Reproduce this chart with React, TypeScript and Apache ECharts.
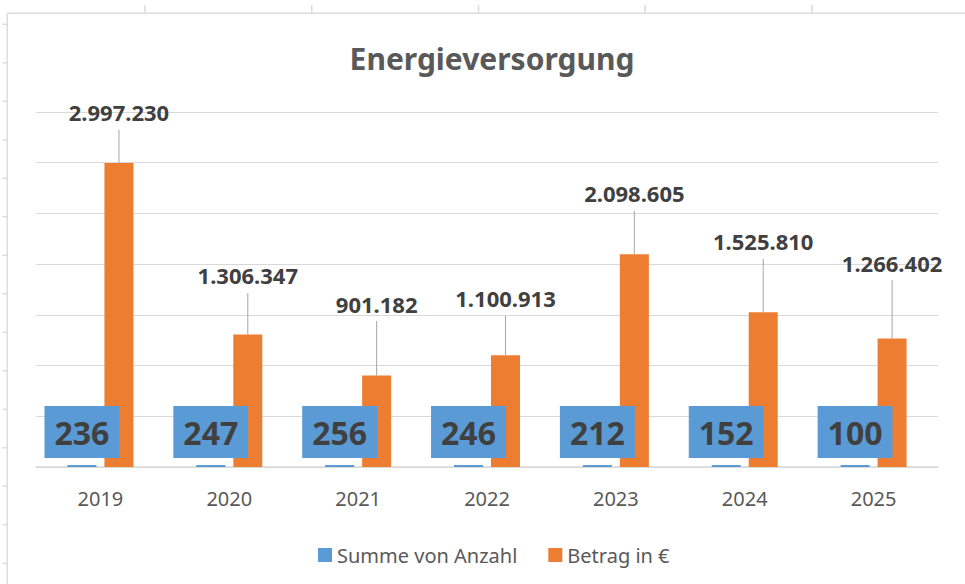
import React, { useEffect, useRef } from 'react';
import * as echarts from 'echarts';

const years = ['2019', '2020', '2021', '2022', '2023', '2024', '2025'];
const anzahl = [236, 247, 256, 246, 212, 152, 100];
const betrag = [2997230, 1306347, 901182, 1100913, 2098605, 1525810, 1266402];
const yMin = 0;
const yMax = 3500000;
const yInterval = 500000;
// vertical offset (px) of each amount label above its bar top (layout only)
const betragLabelDy = [-51, -59, -72, -57, -61, -71, -76];

const fmt = (v: number) => String(Math.round(v)).replace(/\B(?=(\d{3})+(?!\d))/g, '.');

const FONT = '"Noto Sans", "Open Sans", sans-serif';
const GRID_COLOR = '#d9d9d9';
const BAR_W = 29;
const BAR_GAP_PX = 8;

export default function App() {
  const ref = useRef<HTMLDivElement>(null);

  useEffect(() => {
    if (!ref.current) return;
    const chart = echarts.init(ref.current, undefined, { renderer: 'svg' });

    const deco: any[] = [];
    // spreadsheet frame behind the chart
    deco.push({ type: 'line', shape: { x1: 7.3, y1: 13.3, x2: 965, y2: 13.3 }, style: { stroke: '#dcdcdc', lineWidth: 1.5 }, silent: true });
    deco.push({ type: 'line', shape: { x1: 7.3, y1: 13.3, x2: 7.3, y2: 584 }, style: { stroke: '#dcdcdc', lineWidth: 1.5 }, silent: true });
    for (let k = 0; k < 5; k++) {
      const x = 145 + k * 166.75;
      deco.push({ type: 'line', shape: { x1: x, y1: 5, x2: x, y2: 13.3 }, style: { stroke: '#dcdcdc', lineWidth: 1.5 }, silent: true });
    }
    for (let k = 0; k < 15; k++) {
      const y = 24.3 + k * 38.5;
      deco.push({ type: 'line', shape: { x1: 2.5, y1: y, x2: 7.3, y2: y }, style: { stroke: '#dcdcdc', lineWidth: 1.5 }, silent: true });
    }

    const option: any = {
      animation: false,
      backgroundColor: '#ffffff',
      title: {
        text: 'Energieversorgung',
        left: 487,
        textAlign: 'center',
        top: 36,
        textStyle: {
          fontFamily: FONT,
          fontSize: 30,
          fontWeight: 'bold',
          color: '#595959',
          lineHeight: 34,
        },
      },
      legend: {
        data: ['Summe von Anzahl', 'Betrag in €'],
        left: 313,
        top: 540,
        itemWidth: 14,
        itemHeight: 14,
        itemGap: 31,
        icon: 'rect',
        textStyle: { fontFamily: FONT, fontSize: 20, color: '#595959', lineHeight: 20 },
      },
      grid: { left: 36, right: 27, top: 112, bottom: 117, containLabel: false },
      xAxis: {
        type: 'category',
        data: years,
        axisTick: { show: false },
        axisLine: { lineStyle: { color: GRID_COLOR, width: 1.5 } },
        axisLabel: {
          fontFamily: FONT,
          fontSize: 20,
          color: '#595959',
          lineHeight: 20,
          margin: 21,
        },
      },
      yAxis: {
        type: 'value',
        min: yMin,
        max: yMax,
        interval: yInterval,
        axisLabel: { show: false },
        axisLine: { show: false },
        axisTick: { show: false },
        splitLine: { lineStyle: { color: GRID_COLOR, width: 1 } },
      },
      series: [
        {
          name: 'Summe von Anzahl',
          type: 'bar',
          data: anzahl,
          barWidth: BAR_W,
          barGap: (BAR_GAP_PX / BAR_W) * 100 + '%',
          barMinHeight: 2,
          itemStyle: { color: '#5B9BD5' },
          label: {
            show: true,
            position: 'top',
            distance: 7,
            backgroundColor: '#5B9BD5',
            color: '#404040',
            fontFamily: FONT,
            fontSize: 32,
            fontWeight: 'bold',
            lineHeight: 32,
            padding: [10, 10, 10, 10],
          },
        },
        {
          name: 'Betrag in €',
          type: 'bar',
          data: betrag,
          barWidth: BAR_W,
          barGap: (BAR_GAP_PX / BAR_W) * 100 + '%',
          itemStyle: { color: '#ED7D31' },
        },
        {
          name: 'Betrag-Beschriftung',
          type: 'custom',
          silent: true,
          z: 10,
          data: betrag.map((v, i) => [i, v]),
          encode: { x: 0, y: 1 },
          renderItem: (params: any, api: any) => {
            const i = params.dataIndex;
            const p = api.coord([api.value(0), api.value(1)]);
            const x = p[0] + (BAR_W + BAR_GAP_PX) / 2;
            const barTop = p[1];
            const ty = barTop + betragLabelDy[i];
            return {
              type: 'group',
              children: [
                {
                  type: 'line',
                  shape: { x1: x, y1: ty + 17.5, x2: x, y2: barTop },
                  style: { stroke: '#a6a6a6', lineWidth: 1 },
                },
                {
                  type: 'text',
                  x: x,
                  y: ty,
                  style: {
                    text: fmt(api.value(1)),
                    align: 'center',
                    verticalAlign: 'middle',
                    fill: '#404040',
                    fontFamily: FONT,
                    fontSize: 22,
                    fontWeight: 'bold',
                  },
                },
              ],
            };
          },
        },
      ],
      graphic: deco,
    };

    chart.setOption(option);
    return () => chart.dispose();
  }, []);

  return (
    <div
      ref={ref}
      style={{ position: 'fixed', left: 0, top: 0, width: 965, height: 584 }}
    />
  );
}
